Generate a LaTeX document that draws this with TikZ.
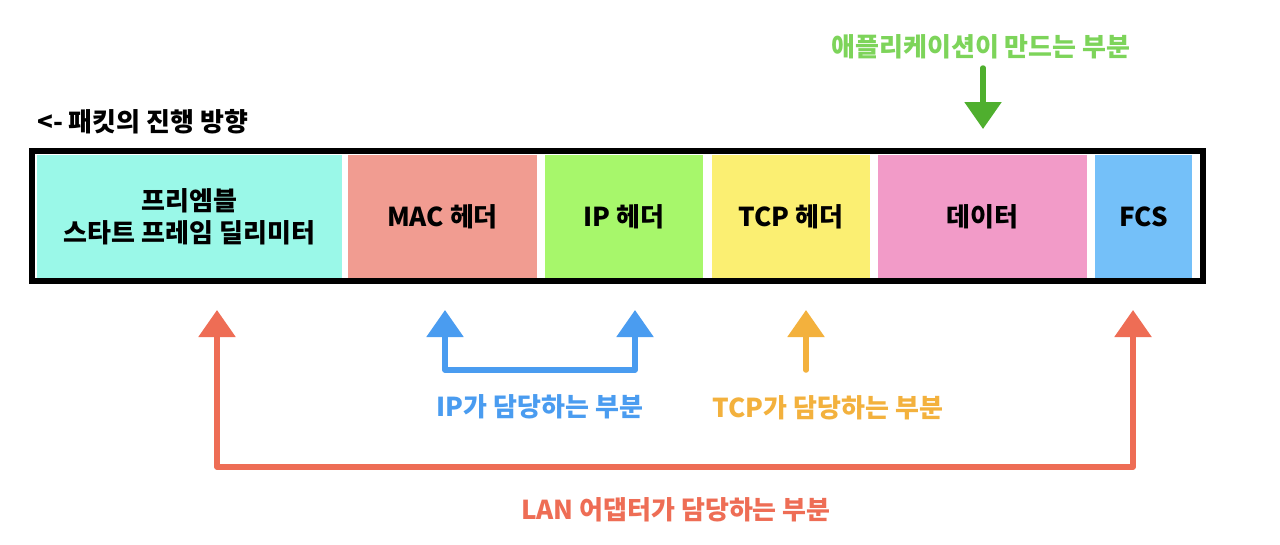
\documentclass[tikz,border=0pt]{standalone}
\usepackage{fontspec}
\setmainfont{Noto Sans CJK KR}[BoldFont={* Black}]
\usetikzlibrary{arrows.meta}
\definecolor{cCyan}{HTML}{9AF8E8}
\definecolor{cSalmon}{HTML}{F19C91}
\definecolor{cGreen}{HTML}{A7F76B}
\definecolor{cYellow}{HTML}{FBEF72}
\definecolor{cPink}{HTML}{F29BC8}
\definecolor{cBlue}{HTML}{74C0F9}
\definecolor{tGreen}{HTML}{7DD45A}
\definecolor{aGreen}{HTML}{4FAF2E}
\definecolor{aRed}{HTML}{EE6D55}
\definecolor{aBlue}{HTML}{4A9CF0}
\definecolor{aOrange}{HTML}{F3B13D}
\tikzset{
  cell/.style={inner sep=0pt, minimum height=123pt, font=\fontsize{26}{32}\selectfont\bfseries, align=center},
  lbl/.style={inner sep=0pt, font=\fontsize{26}{30}\selectfont\bfseries},
  conn/.style={line width=5.5pt, line join=round, line cap=round},
  tip/.style={-{Triangle[width=36pt,length=27pt]}},
  tips/.style={{Triangle[width=36pt,length=27pt]}-{Triangle[width=36pt,length=27pt]}}
}
\begin{document}
\begin{tikzpicture}[x=1pt,y=-1pt]
\useasboundingbox[fill=white] (0,0) rectangle (1280,544);
% frame
\draw[line width=6pt] (32,151) rectangle (1203,281);
% cells
\node[cell, fill=cCyan, minimum width=305pt] (pre) at (189.5,216.5) {프리엠블\\스타트 프레임 딜리미터};
\node[cell, fill=cSalmon, minimum width=189pt] (mac) at (442.5,216.5) {MAC 헤더};
\node[cell, fill=cGreen, minimum width=158pt] (ip) at (624,216.5) {IP 헤더};
\node[cell, fill=cYellow, minimum width=158pt] (tcp) at (791,216.5) {TCP 헤더};
\node[cell, fill=cPink, minimum width=209pt] (data) at (982.5,216.5) {데이터};
\node[cell, fill=cBlue, minimum width=97pt] (fcs) at (1143.5,216.5) {FCS};
% labels
\node[lbl, anchor=west] (dir) at (37,122) {<- 패킷의 진행 방향};
\node[lbl, text=tGreen] (app) at (981,47) {애플리케이션이 만드는 부분};
\node[lbl, text=aBlue] (iplbl) at (540,407) {IP가 담당하는 부분};
\node[lbl, text=aOrange] (tcplbl) at (828,408) {TCP가 담당하는 부분};
\node[lbl, text=aRed] (lanlbl) at (676,510) {LAN 어댑터가 담당하는 부분};
% coordinates
\coordinate (gS) at (983,68);
\coordinate (gT) at (983,129);
\coordinate (rL) at (217,310);
\coordinate (rLc) at (217,467);
\coordinate (rRc) at (1133,467);
\coordinate (rR) at (1133,310);
\coordinate (bL) at (445,310);
\coordinate (bLc) at (445,370);
\coordinate (bRc) at (635,370);
\coordinate (bR) at (635,310);
\coordinate (oS) at (806,370);
\coordinate (oT) at (806,310);
% arrows
\draw[conn, tip, draw=aGreen] (gS) -- (gT);
\draw[conn, tips, draw=aRed] (rL) -- (rLc) -- (rRc) -- (rR);
\draw[conn, tips, draw=aBlue] (bL) -- (bLc) -- (bRc) -- (bR);
\draw[conn, tip, draw=aOrange] (oS) -- (oT);
\end{tikzpicture}
\end{document}
